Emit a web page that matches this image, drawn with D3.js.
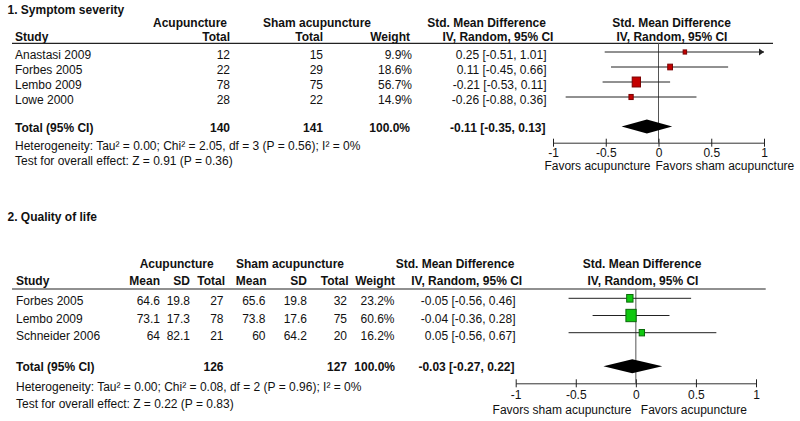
<!DOCTYPE html>
<html><head><meta charset="utf-8">
<script src="https://cdn.jsdelivr.net/npm/d3@7"></script>
<style>
html,body{margin:0;padding:0;background:#fff;}
svg text{font-family:"Liberation Sans",Arial,sans-serif;font-size:12px;fill:#111;}
</style></head><body>
<svg id="chart" width="800" height="421"></svg>
<script>
// ---------- Panel 1: Symptom severity ----------
const studies1 = ["Anastasi 2009", "Forbes 2005", "Lembo 2009", "Lowe 2000"];
const acuTotal1 = [12, 22, 78, 28];
const shamTotal1 = [15, 29, 75, 22];
const weight1 = [9.9, 18.6, 56.7, 14.9];
const smd1 = [0.25, 0.11, -0.21, -0.26];
const lo1 = [-0.51, -0.45, -0.53, -0.88];
const hi1 = [1.01, 0.66, 0.11, 0.36];
const total1 = [140, 141, 100.0, -0.11, -0.35, 0.13]; // n acu, n sham, weight, est, lo, hi
const het1 = "Heterogeneity: Tau² = 0.00; Chi² = 2.05, df = 3 (P = 0.56); I² = 0%";
const test1 = "Test for overall effect: Z = 0.91 (P = 0.36)";
const favors1 = ["Favors acupuncture", "Favors sham acupuncture"];

// ---------- Panel 2: Quality of life ----------
const studies2 = ["Forbes 2005", "Lembo 2009", "Schneider 2006"];
const acuMean2 = [64.6, 73.1, 64];
const acuSD2 = [19.8, 17.3, 82.1];
const acuTotal2 = [27, 78, 21];
const shamMean2 = [65.6, 73.8, 60];
const shamSD2 = [19.8, 17.6, 64.2];
const shamTotal2 = [32, 75, 20];
const weight2 = [23.2, 60.6, 16.2];
const smd2 = [-0.05, -0.04, 0.05];
const lo2 = [-0.56, -0.36, -0.56];
const hi2 = [0.46, 0.28, 0.67];
const total2 = [126, 127, 100.0, -0.03, -0.27, 0.22];
const het2 = "Heterogeneity: Tau² = 0.00; Chi² = 0.08, df = 2 (P = 0.96); I² = 0%";
const test2 = "Test for overall effect: Z = 0.22 (P = 0.83)";
const favors2 = ["Favors sham acupuncture", "Favors acupuncture"];

const axisTicks = [-1, -0.5, 0, 0.5, 1];

const svg = d3.select("#chart");
svg.append("rect").attr("width", 800).attr("height", 421).attr("fill", "#fff");

const f2 = v => v.toFixed(2);
const ci = (e, l, h) => `${f2(e)} [${f2(l)}, ${f2(h)}]`;
const pct = v => v.toFixed(1) + "%";

function txt(g, x, y, s, anchor, bold) {
  return g.append("text").attr("x", x).attr("y", y).attr("text-anchor", anchor || "start")
    .attr("font-weight", bold ? "bold" : null).text(s);
}

function forest(g, cfg) {
  const x = d3.scaleLinear().domain([-1, 1]).range(cfg.xr).clamp(true);
  const y = d3.scalePoint().domain(cfg.studies).range(cfg.yr);
  const size = d3.scaleSqrt().domain([0, 100]).range([0, cfg.maxSide]);
  // header line
  g.append("line").attr("x1", 12).attr("x2", cfg.lineEnd).attr("y1", cfg.headLine).attr("y2", cfg.headLine)
    .attr("stroke", "#222").attr("stroke-width", 1.2);
  // zero line
  g.append("line").attr("x1", x(0)).attr("x2", x(0)).attr("y1", cfg.headLine).attr("y2", cfg.axisY)
    .attr("stroke", "#555").attr("stroke-width", 1);
  // CI lines
  cfg.studies.forEach((s, i) => {
    const yy = y(s);
    g.append("line").attr("x1", x(cfg.lo[i])).attr("x2", x(cfg.hi[i])).attr("y1", yy).attr("y2", yy)
      .attr("stroke", "#222").attr("stroke-width", 1);
    if (cfg.hi[i] > 1) {
      const xe = x(1);
      g.append("path").attr("d", `M${xe},${yy} L${xe - 5},${yy - 3.5} L${xe - 5},${yy + 3.5} Z`).attr("fill", "#222");
    }
    const w = size(cfg.weight[i]);
    const h = w * 1.2;
    g.append("rect").attr("x", x(cfg.smd[i]) - w / 2).attr("y", yy - h / 2).attr("width", w).attr("height", h)
      .attr("fill", cfg.fill).attr("stroke", cfg.stroke).attr("stroke-width", 1);
  });
  // diamond
  const t = cfg.total, dy = cfg.diamondY, dh = 7;
  g.append("path").attr("d", `M${x(t[4])},${dy} L${x(t[3])},${dy - dh} L${x(t[5])},${dy} L${x(t[3])},${dy + dh} Z`)
    .attr("fill", "#000");
  // axis
  const ax = g.append("g").attr("transform", `translate(0,${cfg.axisY})`)
    .call(d3.axisBottom(x).tickValues(axisTicks).tickFormat(d => String(d)).tickSizeOuter(0));
  ax.select(".domain").attr("stroke", "#333");
  ax.selectAll(".tick line").attr("y1", -4).attr("y2", 4).attr("stroke", "#222");
  ax.selectAll(".tick text").attr("y", cfg.tickLabelDy).attr("dy", null)
    .style("font-family", '"Liberation Sans",Arial,sans-serif').style("font-size", "12px").attr("fill", "#111");
  txt(g, x(0) + cfg.favGap[0], cfg.axisY + cfg.favDy, cfg.favors[0], "end");
  txt(g, x(0) + cfg.favGap[1], cfg.axisY + cfg.favDy, cfg.favors[1], "start");
  return y;
}

// ================= PANEL 1 =================
const g1 = svg.append("g");
txt(g1, 7.5, 13.5, "1. Symptom severity", "start", true);
txt(g1, 190, 27, "Acupuncture", "middle", true);
txt(g1, 317, 27, "Sham acupuncture", "middle", true);
txt(g1, 486.5, 27, "Std. Mean Difference", "middle", true);
txt(g1, 671.5, 27, "Std. Mean Difference", "middle", true);
txt(g1, 15, 41.3, "Study", "start", true);
txt(g1, 230, 41.3, "Total", "end", true);
txt(g1, 323, 41.3, "Total", "end", true);
txt(g1, 410, 41.3, "Weight", "end", true);
txt(g1, 498, 41.3, "IV, Random, 95% CI", "middle", true);
txt(g1, 672, 41.3, "IV, Random, 95% CI", "middle", true);

const y1 = forest(g1, {
  studies: studies1, lo: lo1, hi: hi1, smd: smd1, weight: weight1, total: total1,
  xr: [553, 764], yr: [52, 97], maxSide: 11, fill: "#c40000", stroke: "#7a0000",
  headLine: 43.3, lineEnd: 773, axisY: 142.7, diamondY: 126.5,
  tickLabelDy: 14, favDy: 27.5, favGap: [-8, -3], favors: favors1,
});
studies1.forEach((s, i) => {
  const b = y1(s) + 6.8;
  txt(g1, 15, b, s);
  txt(g1, 230, b, acuTotal1[i], "end");
  txt(g1, 323, b, shamTotal1[i], "end");
  txt(g1, 412, b, pct(weight1[i]), "end");
  txt(g1, 546.5, b, ci(smd1[i], lo1[i], hi1[i]), "end");
});
txt(g1, 15, 132, "Total (95% CI)", "start", true);
txt(g1, 230, 132, total1[0], "end", true);
txt(g1, 323, 132, total1[1], "end", true);
txt(g1, 410, 132, pct(total1[2]), "end", true);
txt(g1, 545.5, 132, ci(total1[3], total1[4], total1[5]), "end", true);
txt(g1, 15, 150.3, het1);
txt(g1, 15, 164.6, test1);

// ================= PANEL 2 =================
const g2 = svg.append("g");
txt(g2, 7.5, 221, "2. Quality of life", "start", true);
txt(g2, 176.7, 268, "Acupuncture", "middle", true);
txt(g2, 290, 268, "Sham acupuncture", "middle", true);
txt(g2, 455, 268, "Std. Mean Difference", "middle", true);
txt(g2, 642, 268, "Std. Mean Difference", "middle", true);
txt(g2, 16, 284.6, "Study", "start", true);
txt(g2, 160, 284.6, "Mean", "end", true);
txt(g2, 190, 284.6, "SD", "end", true);
txt(g2, 225, 284.6, "Total", "end", true);
txt(g2, 266.5, 284.6, "Mean", "end", true);
txt(g2, 307, 284.6, "SD", "end", true);
txt(g2, 348.5, 284.6, "Total", "end", true);
txt(g2, 395, 284.6, "Weight", "end", true);
txt(g2, 466.7, 284.6, "IV, Random, 95% CI", "middle", true);
txt(g2, 643, 284.6, "IV, Random, 95% CI", "middle", true);

const y2 = forest(g2, {
  studies: studies2, lo: lo2, hi: hi2, smd: smd2, weight: weight2, total: total2,
  xr: [515.7, 756], yr: [298.3, 332.7], maxSide: 13.2, fill: "#10c810", stroke: "#0a6a0a",
  headLine: 289, lineEnd: 765.7, axisY: 383.3, diamondY: 366.3,
  tickLabelDy: 15.5, favDy: 31, favGap: [-4.5, 5], favors: favors2,
});
studies2.forEach((s, i) => {
  const b = y2(s) + 7;
  txt(g2, 16, b, s);
  txt(g2, 160, b, acuMean2[i], "end");
  txt(g2, 190, b, acuSD2[i], "end");
  txt(g2, 223.5, b, acuTotal2[i], "end");
  txt(g2, 265.5, b, shamMean2[i], "end");
  txt(g2, 307, b, shamSD2[i], "end");
  txt(g2, 347, b, shamTotal2[i], "end");
  txt(g2, 394.5, b, pct(weight2[i]), "end");
  txt(g2, 515.5, b, ci(smd2[i], lo2[i], hi2[i]), "end");
});
txt(g2, 16, 371.3, "Total (95% CI)", "start", true);
txt(g2, 223.5, 371.3, total2[0], "end", true);
txt(g2, 347, 371.3, total2[1], "end", true);
txt(g2, 395, 371.3, pct(total2[2]), "end", true);
txt(g2, 514.5, 371.3, ci(total2[3], total2[4], total2[5]), "end", true);
txt(g2, 16, 391.3, het2);
txt(g2, 16, 407.6, test2);
</script>
</body></html>
